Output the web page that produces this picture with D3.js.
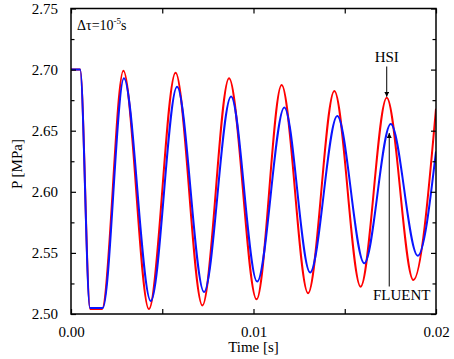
<!DOCTYPE html>
<html>
<head>
<meta charset="utf-8">
<script src="https://cdn.jsdelivr.net/npm/d3@7"></script>
<style>
  body { margin: 0; background: #fff; }
  svg { display: block; }
  text { font-family: "Liberation Serif", "Times New Roman", serif; fill: #000; }
</style>
</head>
<body>
<div id="chart"></div>
<script>
// HSI (red) - time [s] and pressure [MPa] at read-off points
const hsiTime = [0, 0.0005, 0.00105, 0.0017, 0.00287, 0.00427, 0.00573, 0.0072, 0.00866, 0.01017, 0.01154, 0.01299, 0.01443, 0.01587, 0.0173, 0.01876, 0.02];
const hsiP    = [2.70, 2.70, 2.504, 2.504, 2.699, 2.504, 2.6975, 2.507, 2.693, 2.512, 2.6874, 2.517, 2.6825, 2.5224, 2.677, 2.5278, 2.668];

// FLUENT (blue)
const fluentTime = [0, 0.0005, 0.00104, 0.00174, 0.0029, 0.00437, 0.00581, 0.00729, 0.00877, 0.0102, 0.01169, 0.0131, 0.01459, 0.01607, 0.01752, 0.019, 0.02];
const fluentP    = [2.70, 2.70, 2.505, 2.505, 2.693, 2.5106, 2.686, 2.518, 2.678, 2.5265, 2.669, 2.534, 2.662, 2.5415, 2.6555, 2.5477, 2.633];

const xTicks = [0, 0.01, 0.02];
const xMinorTicks = [0.005, 0.015];
const yTicks = [2.50, 2.55, 2.60, 2.65, 2.70, 2.75];
const yMinorTicks = [2.525, 2.575, 2.625, 2.675, 2.725];

const W = 454, H = 359;
const margin = { top: 8.5, right: 18, bottom: 45, left: 71 };
const width = W - margin.left - margin.right;
const height = H - margin.top - margin.bottom;

const svg = d3.select("#chart").append("svg")
    .attr("width", W)
    .attr("height", H);

const g = svg.append("g")
    .attr("transform", `translate(${margin.left},${margin.top})`);

const x = d3.scaleLinear().domain([0, 0.02]).range([0, width]);
const y = d3.scaleLinear().domain([2.50, 2.75]).range([height, 0]);

// clip for curves
g.append("clipPath").attr("id", "clip")
    .append("rect").attr("width", width).attr("height", height);

const line = d3.line()
    .x(d => x(d[0]))
    .y(d => y(d[1]))
    .curve(d3.curveMonotoneX);

const hsi = hsiTime.map((t, i) => [t, hsiP[i]]);
const fluent = fluentTime.map((t, i) => [t, fluentP[i]]);

g.append("path")
    .datum(hsi)
    .attr("clip-path", "url(#clip)")
    .attr("fill", "none")
    .attr("stroke", "#ff0000")
    .attr("stroke-width", 2)
    .attr("d", line);

g.append("path")
    .datum(fluent)
    .attr("clip-path", "url(#clip)")
    .attr("fill", "none")
    .attr("stroke", "#0a14ff")
    .attr("stroke-width", 2)
    .attr("d", line);

// Axes: inward ticks on all four sides
const tickLen = 5, minorLen = 3.5;
const fmt = d3.format(".2f");

const addAxis = (axis, transform, labels) => {
    const a = g.append("g")
        .attr("transform", transform)
        .call(axis);
    a.select(".domain").remove();
    a.selectAll(".tick line").attr("stroke", "#000").attr("stroke-width", 1.2);
    if (!labels) a.selectAll(".tick text").remove();
    else a.selectAll(".tick text")
        .style("font-family", '"Liberation Serif", serif')
        .style("font-size", "15px")
        .attr("fill", "#000");
    return a;
};

// bottom
addAxis(d3.axisBottom(x).tickValues(xTicks).tickSize(-tickLen).tickPadding(12).tickFormat(fmt),
    `translate(0,${height})`, true);
addAxis(d3.axisBottom(x).tickValues(xMinorTicks).tickSize(-tickLen), `translate(0,${height})`, false);
// top
addAxis(d3.axisTop(x).tickValues(xTicks.concat(xMinorTicks)).tickSize(-tickLen), `translate(0,0)`, false);
// left
addAxis(d3.axisLeft(y).tickValues(yTicks).tickSize(-tickLen).tickPadding(13).tickFormat(fmt),
    `translate(0,0)`, true);
addAxis(d3.axisLeft(y).tickValues(yMinorTicks).tickSize(-minorLen), `translate(0,0)`, false);
// right
addAxis(d3.axisRight(y).tickValues(yTicks).tickSize(-tickLen), `translate(${width},0)`, false);
addAxis(d3.axisRight(y).tickValues(yMinorTicks).tickSize(-minorLen), `translate(${width},0)`, false);

// frame
g.append("rect")
    .attr("width", width)
    .attr("height", height)
    .attr("fill", "none")
    .attr("stroke", "#000")
    .attr("stroke-width", 1.5);

// axis titles
g.append("text")
    .attr("x", width / 2)
    .attr("y", height + 38)
    .attr("text-anchor", "middle")
    .style("font-size", "15px")
    .text("Time [s]");

svg.append("text")
    .attr("transform", `translate(22,164) rotate(-90)`)
    .attr("text-anchor", "middle")
    .style("font-size", "15px")
    .text("P [MPa]");

// time step note
const note = g.append("text")
    .attr("x", 6)
    .attr("y", 21)
    .style("font-size", "14px");
note.append("tspan").text("Δτ=10");
note.append("tspan").attr("dy", -6).style("font-size", "9px").text("-5");
note.append("tspan").attr("dy", 6).text("s");

// arrow annotations
const defs = svg.append("defs");
defs.append("marker")
    .attr("id", "arrow")
    .attr("viewBox", "0 0 10 10")
    .attr("refX", 10).attr("refY", 5)
    .attr("markerWidth", 5).attr("markerHeight", 5)
    .attr("markerUnits", "userSpaceOnUse")
    .attr("orient", "auto")
    .append("path")
    .attr("d", "M0,0 L10,5 L0,10 Z")
    .attr("fill", "#000");

// HSI -> red peak near t = 0.0173
const hsiPeakT = hsiTime[14], hsiPeakP = hsiP[14];
g.append("text")
    .attr("x", x(hsiPeakT))
    .attr("y", 53)
    .attr("text-anchor", "middle")
    .style("font-size", "15px")
    .text("HSI");
g.append("line")
    .attr("x1", x(hsiPeakT)).attr("x2", x(hsiPeakT))
    .attr("y1", 58).attr("y2", y(hsiPeakP) - 1)
    .attr("stroke", "#000").attr("stroke-width", 1)
    .attr("marker-end", "url(#arrow)");

// FLUENT -> blue peak near t = 0.0175
const flPeakT = fluentTime[14], flPeakP = fluentP[14];
g.append("text")
    .attr("x", x(flPeakT) + 11)
    .attr("y", 291)
    .attr("text-anchor", "middle")
    .style("font-size", "15px")
    .text("FLUENT");
g.append("line")
    .attr("x1", x(flPeakT) - 1.5).attr("x2", x(flPeakT) - 1.5)
    .attr("y1", 278).attr("y2", y(flPeakP) + 9)
    .attr("stroke", "#000").attr("stroke-width", 1)
    .attr("marker-end", "url(#arrow)");
</script>
</body>
</html>
